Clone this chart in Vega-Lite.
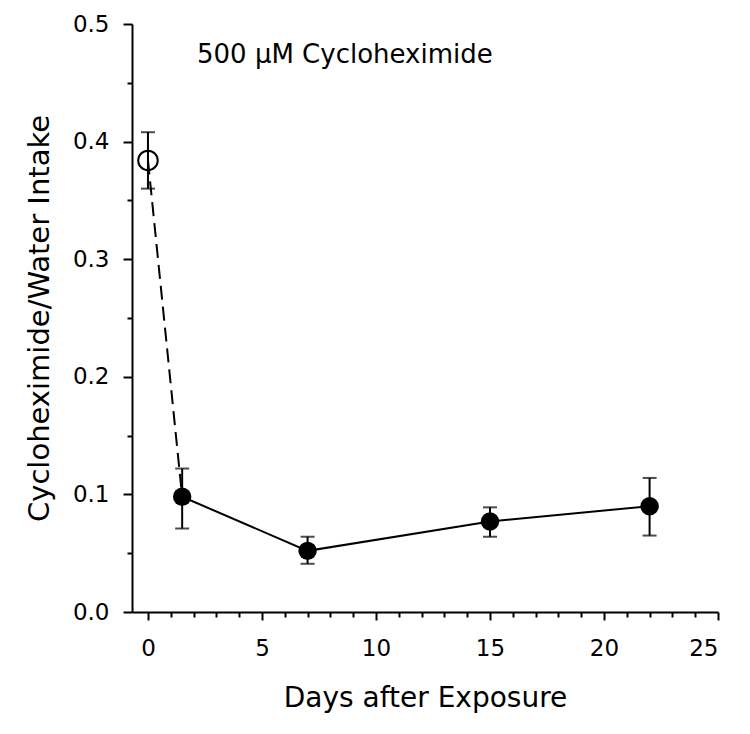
{
  "$schema": "https://vega.github.io/schema/vega-lite/v6.json",
  "width": 586,
  "height": 588,
  "autosize": {"type": "none"},
  "padding": {"left": 132, "top": 24, "right": 32, "bottom": 122},
  "background": "white",
  "config": {
    "view": {"stroke": null},
    "font": "DejaVu Sans",
    "axis": {
      "domainColor": "black", "domainWidth": 2, "tickColor": "black", "tickWidth": 2,
      "labelColor": "black", "titleColor": "black", "labelFont": "DejaVu Sans",
      "titleFont": "DejaVu Sans", "labelFontSize": 23, "titleFontSize": 28,
      "titleFontWeight": "normal", "grid": false
    }
  },
  "datasets": {
    "pts": [
      {"day": 0, "mean": 0.384, "lo": 0.360, "hi": 0.408, "phase": "before"},
      {"day": 1.5, "mean": 0.098, "lo": 0.071, "hi": 0.122, "phase": "after"},
      {"day": 7, "mean": 0.052, "lo": 0.041, "hi": 0.064, "phase": "after"},
      {"day": 15, "mean": 0.077, "lo": 0.064, "hi": 0.089, "phase": "after"},
      {"day": 22, "mean": 0.090, "lo": 0.065, "hi": 0.114, "phase": "after"}
    ],
    "note": [
      {"day": 2.15, "val": 0.467, "label": "500 μM Cycloheximide"}
    ]
  },
  "data": {"name": "pts"},
  "resolve": {"axis": {"x": "independent", "y": "independent"}},
  "layer": [
    {
      "mark": {"type": "rule", "color": "black", "strokeWidth": 2},
      "encoding": {
        "x": {"field": "day", "type": "quantitative",
              "scale": {"domain": [-0.7, 25], "nice": false, "zero": false},
              "axis": {"orient": "bottom", "values": [0, 5, 10, 15, 20, 25], "tickSize": 8,
                       "labelPadding": 17, "title": "Days after Exposure", "titlePadding": 24}},
        "y": {"field": "lo", "type": "quantitative",
              "scale": {"domain": [0, 0.5], "nice": false},
              "axis": {"orient": "left", "values": [0, 0.1, 0.2, 0.3, 0.4, 0.5], "format": ".1f",
                       "tickSize": 9, "labelPadding": 14, "titleFontSize": 29,
                       "title": "Cycloheximide/Water Intake", "titlePadding": 18}},
        "y2": {"field": "hi"}
      }
    },
    {
      "mark": {"type": "tick", "orient": "horizontal", "color": "black", "thickness": 2, "size": 14},
      "encoding": {
        "x": {"field": "day", "type": "quantitative",
              "axis": {"orient": "bottom", "values": [1, 2, 3, 4, 6, 7, 8, 9, 11, 12, 13, 14, 16, 17, 18, 19, 21, 22, 23, 24],
                       "tickSize": 5, "labels": false, "domain": false, "title": null}},
        "y": {"field": "hi", "type": "quantitative",
              "axis": {"orient": "left", "values": [0.05, 0.15, 0.25, 0.35, 0.45],
                       "tickSize": 5, "labels": false, "domain": false, "title": null}}
      }
    },
    {
      "mark": {"type": "tick", "orient": "horizontal", "color": "black", "thickness": 2, "size": 14},
      "encoding": {
        "x": {"field": "day", "type": "quantitative", "axis": null},
        "y": {"field": "lo", "type": "quantitative", "axis": null}
      }
    },
    {
      "transform": [{"filter": "datum.day <= 1.5"}],
      "mark": {"type": "line", "color": "black", "strokeWidth": 2, "strokeDash": [14, 7]},
      "encoding": {
        "x": {"field": "day", "type": "quantitative", "axis": null},
        "y": {"field": "mean", "type": "quantitative", "axis": null}
      }
    },
    {
      "transform": [{"filter": "datum.day >= 1.5"}],
      "mark": {"type": "line", "color": "black", "strokeWidth": 2},
      "encoding": {
        "x": {"field": "day", "type": "quantitative", "axis": null},
        "y": {"field": "mean", "type": "quantitative", "axis": null}
      }
    },
    {
      "transform": [{"filter": "datum.phase == 'before'"}],
      "mark": {"type": "point", "shape": "circle", "filled": false, "color": "black", "strokeWidth": 2, "size": 380, "opacity": 1},
      "encoding": {
        "x": {"field": "day", "type": "quantitative", "axis": null},
        "y": {"field": "mean", "type": "quantitative", "axis": null}
      }
    },
    {
      "transform": [{"filter": "datum.phase == 'after'"}],
      "mark": {"type": "point", "shape": "circle", "filled": true, "color": "black", "size": 340, "opacity": 1},
      "encoding": {
        "x": {"field": "day", "type": "quantitative", "axis": null},
        "y": {"field": "mean", "type": "quantitative", "axis": null}
      }
    },
    {
      "data": {"name": "note"},
      "mark": {"type": "text", "align": "left", "baseline": "alphabetic", "fontSize": 26, "color": "black", "font": "DejaVu Sans"},
      "encoding": {
        "x": {"field": "day", "type": "quantitative", "axis": null},
        "y": {"field": "val", "type": "quantitative", "axis": null},
        "text": {"field": "label"}
      }
    }
  ]
}
